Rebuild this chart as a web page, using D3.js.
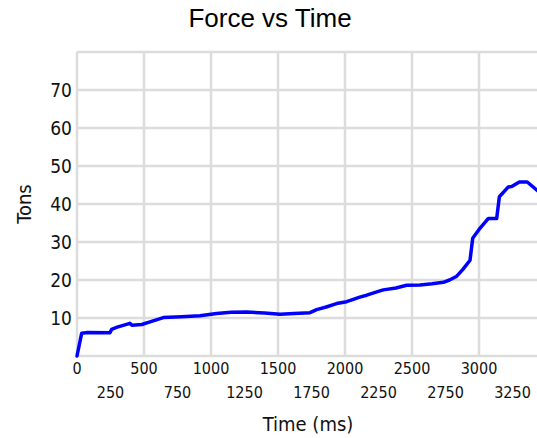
<!DOCTYPE html>
<html>
<head>
<meta charset="utf-8">
<script src="https://cdn.jsdelivr.net/npm/d3@7"></script>
<style>
  html, body { margin: 0; padding: 0; background: #fff; overflow: hidden; }
  svg { display: block; }
</style>
</head>
<body>
<script>
// ---- data ----
const timeMs = [0, 35, 80, 246, 258, 300, 395, 410, 483, 545, 644, 780, 918, 1042, 1150, 1266, 1400, 1515, 1620, 1739, 1788, 1860, 1937, 2012, 2062, 2110, 2162, 2249, 2286, 2380, 2460, 2560, 2650, 2734, 2780, 2834, 2880, 2933, 2953, 3007, 3070, 3132, 3152, 3219, 3244, 3301, 3360, 3450];
const forceTons = [0, 6.0, 6.2, 6.1, 7.0, 7.6, 8.6, 8.1, 8.3, 9.0, 10.1, 10.3, 10.6, 11.2, 11.5, 11.6, 11.3, 11.0, 11.2, 11.4, 12.2, 12.9, 13.8, 14.3, 14.9, 15.5, 16.0, 17.0, 17.4, 17.9, 18.6, 18.7, 19.0, 19.4, 20.0, 21.0, 22.8, 25.2, 31.0, 33.6, 36.2, 36.2, 41.9, 44.5, 44.6, 45.8, 45.8, 43.1];
const xTicksRow1 = [0, 500, 1000, 1500, 2000, 2500, 3000];
const xTicksRow2 = [250, 750, 1250, 1750, 2250, 2750, 3250];
const xGrid = [500, 1000, 1500, 2000, 2500, 3000];
const yTicks = [10, 20, 30, 40, 50, 60, 70];
const yDomain = [0, 80];
const xDomain = [0, 3500];

const W = 537, H = 438;
const svg = d3.select("body").append("svg").attr("width", W).attr("height", H);

const x = d3.scaleLinear().domain(xDomain).range([77, 546]);
const y = d3.scaleLinear().domain(yDomain).range([356, 52]);

const gridColor = "#dcdcdc";
const tickFont = "'DejaVu Sans Condensed', 'DejaVu Sans', sans-serif";

// gridlines
const g = svg.append("g");
g.selectAll("line.hg").data(yTicks.concat([yDomain[1]])).join("line")
  .attr("x1", x(0)).attr("x2", x(xDomain[1]))
  .attr("y1", d => y(d)).attr("y2", d => y(d))
  .attr("stroke", gridColor).attr("stroke-width", 2.5);
g.selectAll("line.vg").data(xGrid).join("line")
  .attr("x1", d => x(d)).attr("x2", d => x(d))
  .attr("y1", y(0)).attr("y2", y(yDomain[1]))
  .attr("stroke", gridColor).attr("stroke-width", 2.5);
// axes borders
g.append("line").attr("x1", x(0)).attr("x2", x(xDomain[1])).attr("y1", y(0)).attr("y2", y(0))
  .attr("stroke", gridColor).attr("stroke-width", 2.5);
g.append("line").attr("x1", x(0)).attr("x2", x(0)).attr("y1", y(0)).attr("y2", y(yDomain[1]))
  .attr("stroke", gridColor).attr("stroke-width", 2.5);

// line
const line = d3.line().x((d, i) => x(timeMs[i])).y(d => y(d));
svg.append("path").datum(forceTons)
  .attr("d", line)
  .attr("fill", "none")
  .attr("stroke", "#0000ff")
  .attr("stroke-width", 3.5)
  .attr("stroke-linejoin", "round")
  .attr("stroke-linecap", "round");

// y tick labels
svg.selectAll("text.yt").data(yTicks).join("text")
  .attr("x", 72).attr("y", d => y(d)).attr("dy", "0.36em")
  .attr("text-anchor", "end")
  .style("font-family", tickFont).style("font-size", "19px").attr("fill", "#111")
  .text(d => d);

// x tick labels (two rows)
svg.selectAll("text.xt1").data(xTicksRow1).join("text")
  .attr("x", d => x(d)).attr("y", 374)
  .attr("text-anchor", "middle")
  .style("font-family", tickFont).style("font-size", "16px").attr("fill", "#111")
  .text(d => d);
svg.selectAll("text.xt2").data(xTicksRow2).join("text")
  .attr("x", d => x(d)).attr("y", 398)
  .attr("text-anchor", "middle")
  .style("font-family", tickFont).style("font-size", "16px").attr("fill", "#111")
  .text(d => d);

// axis titles
svg.append("text").attr("x", 308).attr("y", 431).attr("text-anchor", "middle")
  .style("font-family", tickFont).style("font-size", "20px").attr("fill", "#111")
  .text("Time (ms)");
svg.append("text").attr("transform", "translate(31,204) rotate(-90)").attr("text-anchor", "middle")
  .style("font-family", tickFont).style("font-size", "20px").attr("fill", "#111")
  .text("Tons");

// title
svg.append("text").attr("x", 270).attr("y", 27).attr("text-anchor", "middle")
  .style("font-family", "'Liberation Sans', Arial, sans-serif").style("font-size", "26px").attr("fill", "#000")
  .text("Force vs Time");
</script>
</body>
</html>
